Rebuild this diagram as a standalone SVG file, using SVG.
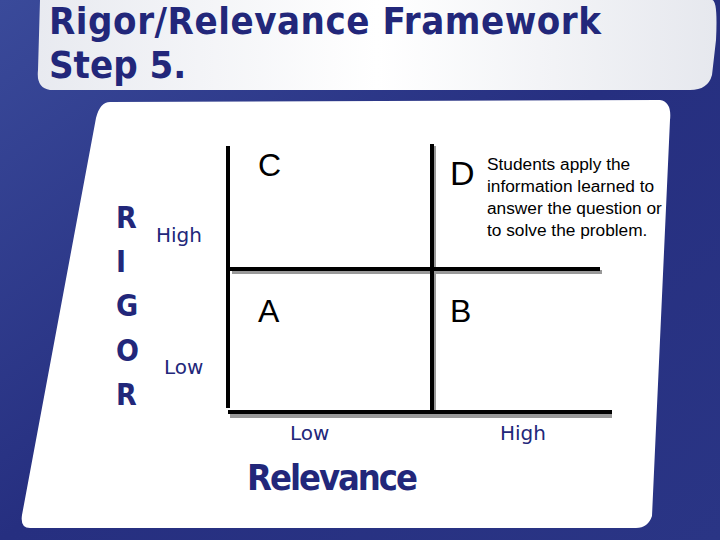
<svg xmlns="http://www.w3.org/2000/svg" width="720" height="540" viewBox="0 0 720 540">
<defs>
<linearGradient id="bg" x1="0" y1="0" x2="1" y2="1"><stop offset="0" stop-color="#3a4a9a"/><stop offset="0.5" stop-color="#262f80"/><stop offset="1" stop-color="#2a3585"/></linearGradient>
<linearGradient id="ban" x1="0" y1="0" x2="1" y2="0"><stop offset="0" stop-color="#e8eaf0"/><stop offset="0.5" stop-color="#ffffff"/><stop offset="1" stop-color="#e6e8ee"/></linearGradient>
<style>
.t{font-family:"DejaVu Sans",sans-serif;fill:#22277a}
.c{font-family:"DejaVu Sans Condensed","DejaVu Sans",sans-serif;fill:#22277a}
.a{font-family:"Liberation Sans",Arial,sans-serif;fill:#000}
.k{stroke:#000;stroke-width:4}
.s{stroke:#999;stroke-width:4}
</style>
</defs>
<rect width="720" height="540" fill="url(#bg)"/>
<path d="M40,0 H712 Q718,0 716,40 L712,75 Q708,90 690,90 L50,90 Q36,88 38,70 Z" fill="url(#ban)"/>
<path d="M110,102 L660,100 Q672,102 670,120 L652,516 Q648,528 636,528 L30,528 Q20,528 22,515 L96,118 Q100,102 110,102 Z" fill="#fff"/>
<text class="c" x="49" y="34" font-size="38" font-weight="bold" textLength="552">Rigor/Relevance  Framework</text>
<text class="c" x="49" y="78" font-size="38" font-weight="bold">Step 5.</text>
<g id="connectors">
<line class="s" x1="232" y1="272" x2="602" y2="272"/>
<line class="s" x1="230" y1="416" x2="612" y2="416"/>
<line class="k" x1="228" y1="146" x2="228" y2="408"/>
<line class="s" x1="434" y1="146" x2="434" y2="410"/>
<line class="k" x1="432" y1="144" x2="432" y2="412"/>
<line class="k" x1="230" y1="269" x2="600" y2="269"/>
<line class="k" x1="228" y1="412" x2="612" y2="412"/>
</g>
<g id="axis-rigor">
<text class="c" x="116" y="228" font-size="30" font-weight="bold">R</text>
<text class="c" x="116" y="272" font-size="30" font-weight="bold">I</text>
<text class="c" x="116" y="316" font-size="30" font-weight="bold">G</text>
<text class="c" x="116" y="361" font-size="30" font-weight="bold">O</text>
<text class="c" x="116" y="405" font-size="30" font-weight="bold">R</text>
<text class="t" x="156" y="242" font-size="20">High</text>
<text class="t" x="164" y="374" font-size="20">Low</text>
</g>
<g id="axis-relevance">
<text class="t" x="290" y="440" font-size="20">Low</text>
<text class="t" x="500" y="440" font-size="20">High</text>
<text class="c" x="247" y="490" font-size="36" font-weight="bold" textLength="171">Relevance</text>
</g>
<g id="quad-C"><text class="a" x="258" y="176" font-size="32">C</text></g>
<g id="quad-D"><text class="a" x="450" y="185" font-size="34">D</text>
<text class="a" font-size="17.3"><tspan x="487" y="170">Students apply the</tspan><tspan x="487" y="192">information learned to</tspan><tspan x="487" y="214">answer the question or</tspan><tspan x="487" y="236">to solve the problem.</tspan></text></g>
<g id="quad-A"><text class="a" x="258" y="322" font-size="32">A</text></g>
<g id="quad-B"><text class="a" x="450" y="322" font-size="32">B</text></g>
</svg>
